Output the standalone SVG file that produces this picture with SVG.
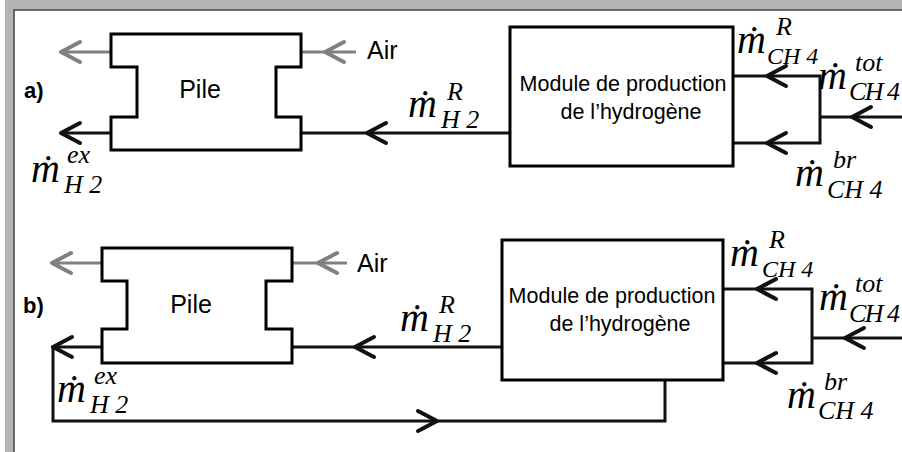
<svg xmlns="http://www.w3.org/2000/svg" xmlns:xlink="http://www.w3.org/1999/xlink" width="902" height="452" viewBox="0 0 902 452">
<style>
.frame{fill:#b4b4b4}
.edge{stroke:#444;stroke-width:1.5;fill:none}
.box{fill:#fff;stroke:#000;stroke-width:3}
.ln{fill:none;stroke:#111;stroke-width:3}
.lg{fill:none;stroke:#808080;stroke-width:3}
.ch{fill:none;stroke:#111;stroke-width:4;stroke-linecap:round;stroke-linejoin:round}
.chg{fill:none;stroke:#808080;stroke-width:4;stroke-linecap:round;stroke-linejoin:round}
.sans{font-family:"Liberation Sans",Arial,sans-serif;fill:#000}
.lbl{font-size:25px}
.air{font-size:25px}
.mod{font-size:21.5px}
.tag{font-size:22px;font-weight:bold}
.mm{font-family:"Liberation Serif","Times New Roman",serif;font-style:italic;font-size:40px;fill:#000}
.ss{font-family:"Liberation Serif","Times New Roman",serif;font-style:italic;font-size:26px;fill:#000}
.sm{font-size:24px}
</style>
<defs>
<path id="chev" d="M19,-10 L0,0 L19,10"/>
</defs>
<g id="frame">
<rect class="frame" x="5" y="0" width="897" height="10"/>
<rect class="frame" x="5" y="0" width="9" height="452"/>
<path class="edge" d="M14,452 V10 H902"/>
</g>
<g id="connectors">
<!-- a) -->
<line class="lg" x1="111" y1="52" x2="62" y2="52"/>
<use xlink:href="#chev" class="chg" transform="translate(61,52)"/>
<line class="ln" x1="111" y1="133" x2="62" y2="133"/>
<use xlink:href="#chev" class="ch" transform="translate(61,133)"/>
<line class="lg" x1="301" y1="52" x2="356" y2="52"/>
<use xlink:href="#chev" class="chg" transform="translate(325,52)"/>
<line class="ln" x1="510" y1="133" x2="301" y2="133"/>
<use xlink:href="#chev" class="ch" transform="translate(367,133)"/>
<path class="ln" d="M733,76 H820 V143 H733"/>
<use xlink:href="#chev" class="ch" transform="translate(767,76)"/>
<use xlink:href="#chev" class="ch" transform="translate(767,143)"/>
<line class="ln" x1="902" y1="117" x2="820" y2="117"/>
<use xlink:href="#chev" class="ch" transform="translate(852,117)"/>
<!-- b) -->
<line class="lg" x1="102" y1="263" x2="53" y2="263"/>
<use xlink:href="#chev" class="chg" transform="translate(52,263)"/>
<path class="ln" d="M665,380 V421 H53 V347 H102"/>
<use xlink:href="#chev" class="ch" transform="translate(53,347)"/>
<use xlink:href="#chev" class="ch" transform="translate(437,421) scale(-1,1)"/>
<line class="lg" x1="292" y1="263" x2="347" y2="263"/>
<use xlink:href="#chev" class="chg" transform="translate(318,263)"/>
<line class="ln" x1="502" y1="347" x2="292" y2="347"/>
<use xlink:href="#chev" class="ch" transform="translate(355,347)"/>
<path class="ln" d="M723,289 H812 V363 H723"/>
<use xlink:href="#chev" class="ch" transform="translate(757,289)"/>
<use xlink:href="#chev" class="ch" transform="translate(757,363)"/>
<line class="ln" x1="902" y1="338" x2="812" y2="338"/>
<use xlink:href="#chev" class="ch" transform="translate(845,338)"/>
</g>
<g id="pile-a">
<path class="box" d="M111,34 H301 V67 H276 V117 H301 V150 H111 V117 H137 V67 H111 Z"/>
<text class="sans lbl" x="200" y="98" text-anchor="middle">Pile</text>
</g>
<g id="module-a">
<rect class="box" x="510" y="27" width="223" height="139"/>
<text class="sans mod" x="623" y="91" text-anchor="middle">Module de production</text>
<text class="sans mod" x="631" y="119" text-anchor="middle">de l’hydrogène</text>
</g>
<g id="pile-b">
<path class="box" d="M102,248 H292 V281 H266 V329 H292 V363 H102 V329 H127 V281 H102 Z"/>
<text class="sans lbl" x="191" y="313" text-anchor="middle">Pile</text>
</g>
<g id="module-b">
<rect class="box" x="502" y="240" width="221" height="140"/>
<text class="sans mod" x="612" y="303" text-anchor="middle">Module de production</text>
<text class="sans mod" x="620" y="331" text-anchor="middle">de l’hydrogène</text>
</g>
<g id="labels">
<text class="sans tag" x="24" y="98">a)</text>
<text class="sans tag" x="23" y="313">b)</text>
<text class="sans air" x="367" y="59">Air</text>
<text class="sans air" x="357" y="272">Air</text>
<!-- a) math -->
<text class="mm" x="31" y="182">ṁ</text><text class="ss" x="67" y="163">ex</text><text class="ss" x="64" y="193">H 2</text>
<text class="mm" x="408" y="117">ṁ</text><text class="ss" x="447" y="100">R</text><text class="ss" x="441" y="128">H 2</text>
<text class="mm" x="737" y="53">ṁ</text><text class="ss" x="776" y="35">R</text><text class="ss sm" x="767" y="64">CH 4</text>
<text class="mm" x="818" y="89">ṁ</text><text class="ss" x="855" y="71">tot</text><text class="ss" x="849" y="100" textLength="51">CH 4</text>
<text class="mm" x="795" y="186">ṁ</text><text class="ss" x="833" y="168">br</text><text class="ss" x="827" y="198">CH 4</text>
<!-- b) math -->
<text class="mm" x="57" y="402">ṁ</text><text class="ss" x="94" y="384">ex</text><text class="ss" x="90" y="413">H 2</text>
<text class="mm" x="400" y="331">ṁ</text><text class="ss" x="439" y="313">R</text><text class="ss" x="433" y="342">H 2</text>
<text class="mm" x="730" y="266">ṁ</text><text class="ss" x="769" y="248">R</text><text class="ss sm" x="762" y="277">CH 4</text>
<text class="mm" x="819" y="310">ṁ</text><text class="ss" x="855" y="292">tot</text><text class="ss" x="849" y="322" textLength="51">CH 4</text>
<text class="mm" x="787" y="408">ṁ</text><text class="ss" x="824" y="390">br</text><text class="ss" x="818" y="419">CH 4</text>
</g>
</svg>
